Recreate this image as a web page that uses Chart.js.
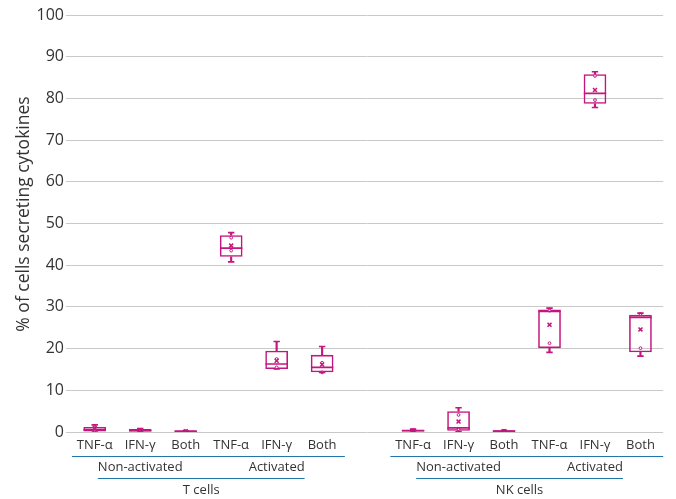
<!DOCTYPE html>
<html>
<head>
<meta charset="utf-8">
<script src="https://cdn.jsdelivr.net/npm/chart.js@4.4.1/dist/chart.umd.min.js"></script>
<style>
  html, body { margin: 0; padding: 0; background: #fff; }
  #wrap { width: 676px; height: 499px; }
</style>
</head>
<body>
<div id="wrap"><canvas id="c" width="676" height="499"></canvas></div>
<script>
// ---- data ----
const categories = ['TNF-α','IFN-γ','Both','TNF-α','IFN-γ','Both','','TNF-α','IFN-γ','Both','TNF-α','IFN-γ','Both'];
const whiskerMin = [0.0, 0.0, 0.0, 40.8, 15.1, 14.3, null, 0.0, 0.1, 0.0, 19.1, 77.8, 18.2];
const quartile1  = [0.1, 0.1, 0.1, 42.0, 15.1, 14.3, null, 0.0, 0.3, 0.0, 20.1, 78.7, 19.1];
const medianVals = [0.5, 0.3, 0.2, 44.1, 16.3, 15.5, null, 0.3, 1.0, 0.2, 28.9, 81.2, 27.5];
const quartile3  = [1.2, 0.7, 0.3, 47.2, 19.5, 18.5, null, 0.6, 5.0, 0.4, 29.4, 85.8, 28.1];
const whiskerMax = [1.7, 0.8, 0.3, 47.8, 21.7, 20.5, null, 0.7, 5.8, 0.4, 29.7, 86.4, 28.5];
const meanVals   = [0.9, 0.4, 0.2, 44.7, 17.1, 16.2, null, 0.3, 2.5, 0.2, 25.7, 82.0, 24.6];
const pointHigh  = [1.1, 0.5, 0.2, 46.6, 17.5, 16.6, null, 0.4, 4.1, 0.3, 29.1, 85.4, 28.3];
const pointLow   = [0.3, 0.2, 0.1, 43.5, 15.5, 14.3, null, 0.2, 0.7, 0.1, 21.3, 79.6, 20.1];
const yTicks = [0,10,20,30,40,50,60,70,80,90,100];
const subGroups = [
  { label: 'Non-activated', at: 1 },
  { label: 'Activated', at: 4 },
  { label: 'Non-activated', at: 8 },
  { label: 'Activated', at: 11 }
];
const mainGroups = [
  { label: 'T cells', from: 0, to: 5, sub: [0, 1] },
  { label: 'NK cells', from: 7, to: 12, sub: [2, 3] }
];
const yTitle = '% of cells secreting cytokines';

// ---- styles ----
const MAG = '#c4167f';
const BLUE = '#2178a8';
const TXT = '#333333';
const GRID = '#c9c9c9';
const FONT = "'Open Sans', 'Noto Sans', sans-serif";

const boxes = quartile1.map((v, i) => v === null ? null : [v, quartile3[i]]);
const lowWhisk = whiskerMin.map((v, i) => v === null ? null : [v, quartile1[i]]);
const highWhisk = whiskerMax.map((v, i) => v === null ? null : [quartile3[i], v]);

const groupPlugin = {
  id: 'groupLabels',
  afterDraw(chart) {
    const ctx = chart.ctx;
    const xs = chart.scales.x;
    const base = chart.chartArea.bottom;
    const half = (xs.getPixelForValue(1) - xs.getPixelForValue(0)) / 2;
    ctx.save();
    // y-axis title
    ctx.save();
    ctx.font = '17.5px ' + FONT;
    ctx.fillStyle = TXT;
    ctx.textAlign = 'center';
    ctx.textBaseline = 'middle';
    ctx.translate(24, 214);
    ctx.rotate(-Math.PI / 2);
    ctx.fillText(yTitle, 0, 0);
    ctx.restore();

    ctx.font = '13px ' + FONT;
    ctx.fillStyle = TXT;
    ctx.textAlign = 'center';
    ctx.textBaseline = 'middle';
    const subExt = [];
    subGroups.forEach(g => {
      const cx = xs.getPixelForValue(g.at);
      ctx.fillText(g.label, cx, base + 35);
      const w = ctx.measureText(g.label).width;
      subExt.push([cx - w / 2, cx + w / 2]);
    });
    ctx.strokeStyle = BLUE;
    ctx.lineWidth = 1.2;
    mainGroups.forEach(g => {
      const l = xs.getPixelForValue(g.from) - half;
      const r = xs.getPixelForValue(g.to) + half;
      ctx.beginPath();
      ctx.moveTo(l, base + 24.5);
      ctx.lineTo(r, base + 24.5);
      ctx.stroke();
      const sl = subExt[g.sub[0]][0];
      const sr = subExt[g.sub[1]][1];
      ctx.beginPath();
      ctx.moveTo(sl, base + 46.5);
      ctx.lineTo(sr, base + 46.5);
      ctx.stroke();
      ctx.fillText(g.label, (sl + sr) / 2, base + 58);
    });
    ctx.restore();
  }
};

const pointCommon = { type: 'line', showLine: false, borderColor: MAG, backgroundColor: MAG, pointHoverRadius: 0 };

new Chart(document.getElementById('c'), {
  type: 'bar',
  data: {
    labels: categories,
    datasets: [
      { data: lowWhisk, backgroundColor: MAG, borderWidth: 0, barThickness: 1.5, grouped: false, order: 5 },
      { data: highWhisk, backgroundColor: MAG, borderWidth: 0, barThickness: 1.5, grouped: false, order: 5 },
      { data: boxes, backgroundColor: 'rgba(255,255,255,0)', borderColor: MAG, borderWidth: 1.6, borderSkipped: false,
        barPercentage: 0.5, categoryPercentage: 1, grouped: false, order: 4 },
      Object.assign({}, pointCommon, { data: whiskerMin, pointStyle: 'line', pointRadius: 3.2, pointBorderWidth: 1.6, order: 1 }),
      Object.assign({}, pointCommon, { data: whiskerMax, pointStyle: 'line', pointRadius: 3.2, pointBorderWidth: 1.6, order: 1 }),
      Object.assign({}, pointCommon, { data: medianVals, pointStyle: 'line', pointRadius: 11.2, pointBorderWidth: 1.6, order: 1 }),
      Object.assign({}, pointCommon, { data: meanVals, pointStyle: 'crossRot', pointRadius: 2.8, pointBorderWidth: 1.5, order: 1 }),
      Object.assign({}, pointCommon, { data: pointHigh, pointStyle: 'circle', pointRadius: 1.4, pointBorderWidth: 1, pointBackgroundColor: '#fff', order: 1 }),
      Object.assign({}, pointCommon, { data: pointLow, pointStyle: 'circle', pointRadius: 1.4, pointBorderWidth: 1, pointBackgroundColor: '#fff', order: 1 })
    ]
  },
  options: {
    responsive: false,
    animation: false,
    layout: { padding: { top: 15, right: 12, left: 0, bottom: 0 } },
    plugins: { legend: { display: false }, tooltip: { enabled: false } },
    scales: {
      x: {
        offset: true,
        grid: { display: false, drawTicks: false },
        border: { display: false },
        ticks: { color: TXT, font: { family: FONT, size: 13 }, padding: 5, maxRotation: 0, autoSkip: false },
        afterFit(s) { s.height = 67; }
      },
      y: {
        min: 0, max: 100,
        afterBuildTicks(s) { s.ticks = yTicks.map(v => ({ value: v })); },
        grid: { color: GRID, lineWidth: 1, tickLength: 6, tickColor: GRID },
        border: { display: false },
        ticks: { color: TXT, font: { family: FONT, size: 16 }, padding: 2 },
        title: { display: false },
        afterFit(s) { s.width = 72; }
      }
    }
  },
  plugins: [groupPlugin]
});
</script>
</body>
</html>
